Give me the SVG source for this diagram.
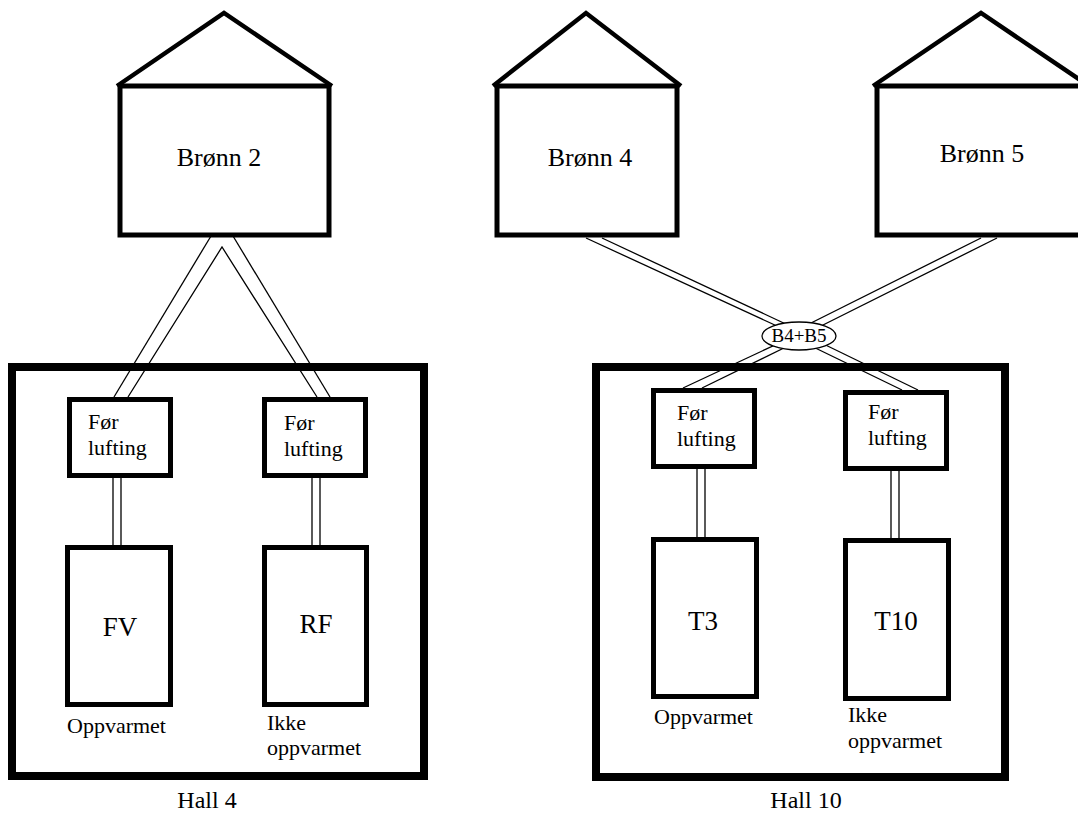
<svg xmlns="http://www.w3.org/2000/svg" width="1078" height="814" viewBox="0 0 1078 814" font-family="'Liberation Serif', 'Times New Roman', serif">
<style>
.bg{fill:#fff}
.roof{fill:none;stroke:#000;stroke-width:4.5;stroke-linejoin:miter}
.well{fill:#fff;stroke:#000;stroke-width:5}
.hall{fill:none;stroke:#000;stroke-width:8}
.box{fill:#fff;stroke:#000;stroke-width:5}
.pipe{stroke:#000;stroke-width:1.3;fill:none}
.junc{fill:#fff;stroke:#000;stroke-width:1.3}
text{font-family:'Liberation Serif','Times New Roman',serif;fill:#000}
.t26{font-size:26px}
.t22{font-size:22px}
.t27{font-size:27px}
.t19{font-size:19px}
.t24{font-size:24px}
.c{text-anchor:middle}
</style>
<rect class="bg" x="0" y="0" width="1078" height="814"/>
<g id="connectors">
  <line class="pipe" x1="211" y1="236" x2="114" y2="397"/>
  <polyline class="pipe" points="128,397 222,247 317,397"/>
  <line class="pipe" x1="233" y1="236" x2="330" y2="397"/>
  <line class="pipe" x1="586" y1="238" x2="790" y2="332"/>
  <line class="pipe" x1="602" y1="238" x2="790" y2="326"/>
  <line class="pipe" x1="981" y1="238" x2="805" y2="326"/>
  <line class="pipe" x1="997" y1="238" x2="805" y2="334"/>
  <line class="pipe" x1="683" y1="388" x2="790" y2="338"/>
  <line class="pipe" x1="702" y1="388" x2="790" y2="345"/>
  <line class="pipe" x1="902" y1="390" x2="805" y2="343"/>
  <line class="pipe" x1="918" y1="390" x2="805" y2="335"/>
  <line class="pipe" x1="113" y1="478" x2="113" y2="545"/>
  <line class="pipe" x1="121" y1="478" x2="121" y2="545"/>
  <line class="pipe" x1="312" y1="478" x2="312" y2="545"/>
  <line class="pipe" x1="320" y1="478" x2="320" y2="545"/>
  <line class="pipe" x1="697" y1="469" x2="697" y2="537"/>
  <line class="pipe" x1="705" y1="469" x2="705" y2="537"/>
  <line class="pipe" x1="891" y1="471" x2="891" y2="538"/>
  <line class="pipe" x1="899" y1="471" x2="899" y2="538"/>
</g>
<g id="bronn2">
  <polyline class="roof" points="117,86 224,13 332,86"/>
  <rect class="well" x="120" y="86" width="209" height="149"/>
  <text class="t26 c" x="219" y="166">Brønn 2</text>
</g>
<g id="bronn4">
  <polyline class="roof" points="493,86 586,13 681,86"/>
  <rect class="well" x="497" y="86" width="180" height="149"/>
  <text class="t26 c" x="590" y="166">Brønn 4</text>
</g>
<g id="bronn5">
  <polyline class="roof" points="873,86 981,13 1089,86"/>
  <rect class="well" x="877" y="86" width="210" height="149"/>
  <text class="t26 c" x="982" y="162">Brønn 5</text>
</g>
<g id="junction">
  <ellipse class="junc" cx="799" cy="336" rx="37" ry="14"/>
  <text class="t19 c" x="799" y="342">B4+B5</text>
</g>
<g id="hall4">
  <rect class="hall" x="12" y="367" width="412" height="409"/>
  <text class="t24 c" x="207" y="808">Hall 4</text>
</g>
<g id="hall10">
  <rect class="hall" x="596" y="367" width="409" height="410"/>
  <text class="t24 c" x="806" y="808">Hall 10</text>
</g>
<g id="h4-forlufting-1">
  <rect class="box" x="69.5" y="399.5" width="101" height="76"/>
  <text class="t22" x="88" y="429">Før</text>
  <text class="t22" x="88" y="455">lufting</text>
</g>
<g id="h4-fv">
  <rect class="box" x="67.5" y="547.5" width="103" height="157"/>
  <text class="t27 c" x="120" y="636">FV</text>
  <text class="t22" x="67" y="733">Oppvarmet</text>
</g>
<g id="h4-forlufting-2">
  <rect class="box" x="264.5" y="399.5" width="101" height="76"/>
  <text class="t22" x="284" y="430">Før</text>
  <text class="t22" x="284" y="456">lufting</text>
</g>
<g id="h4-rf">
  <rect class="box" x="264.5" y="547.5" width="102" height="157"/>
  <text class="t27 c" x="316" y="633">RF</text>
  <text class="t22" x="267" y="730">Ikke</text>
  <text class="t22" x="267" y="755">oppvarmet</text>
</g>
<g id="h10-forlufting-1">
  <rect class="box" x="653.5" y="390.5" width="101" height="76"/>
  <text class="t22" x="677" y="420">Før</text>
  <text class="t22" x="677" y="446">lufting</text>
</g>
<g id="h10-t3">
  <rect class="box" x="653.5" y="539.5" width="103" height="157"/>
  <text class="t27 c" x="703" y="630">T3</text>
  <text class="t22" x="654" y="724">Oppvarmet</text>
</g>
<g id="h10-forlufting-2">
  <rect class="box" x="845.5" y="392.5" width="101" height="76"/>
  <text class="t22" x="868" y="419">Før</text>
  <text class="t22" x="868" y="445">lufting</text>
</g>
<g id="h10-t10">
  <rect class="box" x="845.5" y="540.5" width="103" height="158"/>
  <text class="t27 c" x="896" y="630">T10</text>
  <text class="t22" x="848" y="722">Ikke</text>
  <text class="t22" x="848" y="748">oppvarmet</text>
</g>
</svg>
